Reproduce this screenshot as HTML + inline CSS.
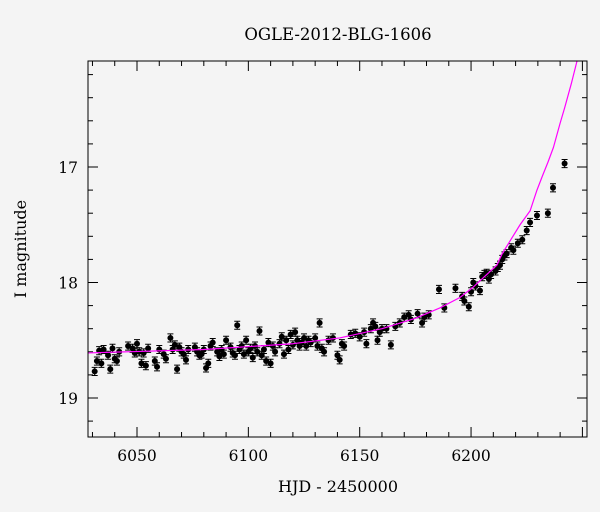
<!DOCTYPE html>
<html><head><meta charset="utf-8"><style>
body{margin:0;background:#f4f4f4}
svg{display:block;font-family:"DejaVu Serif","Liberation Serif",serif}
</style></head><body>
<svg id="chart" width="600" height="512" viewBox="0 0 600 512">
<rect width="600" height="512" fill="#f4f4f4"/>
<text x="338" y="40" font-size="16.5" text-anchor="middle">OGLE-2012-BLG-1606</text>
<text x="338" y="492" font-size="16" text-anchor="middle">HJD - 2450000</text>
<text transform="translate(26,249) rotate(-90)" font-size="16" text-anchor="middle">I magnitude</text>
<g id="ticks"></g>
<g id="plot"></g>
<rect x="88" y="61" width="499" height="376" fill="none" stroke="#000" stroke-width="1"/>
</svg>
<script>
const xTicks=[6050,6100,6150,6200];
const yTicks=[17,18,19];
const modelDays=[6028,6080,6120,6141,6160,6175,6186,6195,6201,6206,6211.6,6214,6218.8,6222,6226.5,6229.6,6232,6234.5,6237,6240,6242,6245,6248,6251];
const modelMags=[18.61,18.58,18.53,18.48,18.40,18.31,18.22,18.13,18.04,17.95,17.85,17.75,17.60,17.50,17.38,17.20,17.08,16.96,16.83,16.62,16.49,16.28,16.05,15.85];
const obsDays=[6031,6032,6033,6034,6035,6037,6038,6039,6040,6041,6042,6046,6048,6049,6050,6051,6052,6053,6054,6055,6058,6059,6060,6062,6063,6065,6066,6067,6068,6069,6070,6071,6072,6073,6076,6077,6078,6079,6080,6081,6082,6083,6084,6086,6087,6088,6089,6090,6092,6093,6094,6095,6096,6097,6098,6099,6100,6101,6102,6103,6104,6105,6106,6107,6108,6109,6110,6111,6112,6114,6115,6116,6117,6118,6119,6120,6121,6122,6123,6124,6125,6126,6127,6128,6130,6131,6132,6133,6134,6136,6138,6140,6141,6142,6143,6146,6148,6150,6152,6153,6155,6156,6157,6158,6159,6160,6162,6164,6166,6168,6170,6172,6173,6176,6178,6179,6181,6185.6,6188,6193,6196,6197,6199,6200,6201,6202,6204,6205,6206,6207,6208,6209,6211,6212,6213,6214,6215,6216,6218,6219,6221,6223,6225,6226.5,6229.6,6234.5,6236.8,6242];
const obsMags=[18.77,18.68,18.59,18.70,18.58,18.63,18.75,18.57,18.66,18.68,18.60,18.55,18.57,18.61,18.53,18.60,18.70,18.61,18.72,18.57,18.68,18.73,18.58,18.62,18.66,18.48,18.58,18.54,18.75,18.56,18.60,18.62,18.67,18.58,18.56,18.60,18.63,18.62,18.58,18.74,18.70,18.55,18.52,18.60,18.64,18.58,18.62,18.50,18.56,18.61,18.63,18.37,18.58,18.55,18.62,18.50,18.60,18.57,18.65,18.55,18.60,18.42,18.63,18.58,18.68,18.52,18.70,18.55,18.60,18.53,18.47,18.62,18.50,18.58,18.45,18.54,18.43,18.50,18.55,18.52,18.48,18.55,18.50,18.52,18.48,18.55,18.35,18.57,18.60,18.50,18.48,18.63,18.67,18.53,18.55,18.45,18.44,18.47,18.43,18.53,18.40,18.35,18.38,18.50,18.43,18.40,18.40,18.54,18.38,18.35,18.30,18.28,18.32,18.27,18.35,18.30,18.28,18.06,18.22,18.05,18.12,18.16,18.21,18.08,18.00,18.03,18.07,17.95,17.93,17.92,17.97,17.93,17.90,17.87,17.85,17.80,17.77,17.75,17.70,17.72,17.66,17.63,17.55,17.48,17.42,17.40,17.18,16.97,16.86,16.49];
const obsErr=0.035;
const NS="http://www.w3.org/2000/svg";
const L=88,R=587,T=61,B=437;
const X=d=>137+(d-6050)*2.227;
const Y=m=>167+(m-17)*115.5;
function mk(tag,attrs,parent){const e=document.createElementNS(NS,tag);for(const k in attrs)e.setAttribute(k,attrs[k]);parent.appendChild(e);return e;}
const tg=document.getElementById('ticks'), pg=document.getElementById('plot');
for(let d=6030;d<=6250;d+=10){const x=X(d);const maj=d%50===0;const len=maj?10:5;
 const t1=mk('line',{x1:x,y1:B,x2:x,y2:B-len,stroke:'#000'},tg);
 
 
 const t2=mk('line',{x1:x,y1:T,x2:x,y2:T+len,stroke:'#000'},tg);
 
 }
xTicks.forEach(d=>{const t=mk('text',{x:X(d),y:461,'font-size':15.5,'text-anchor':'middle'},tg);t.textContent=d;
 
 });
for(let i=81;i<=193;i++){const m=i/5;const y=Y(m);if(y<T||y>B)continue;const maj=i%5===0;const len=maj?10:5;
 const t1=mk('line',{x1:L,y1:y,x2:L+len,y2:y,stroke:'#000'},tg);
 
 
 const t2=mk('line',{x1:R,y1:y,x2:R-len,y2:y,stroke:'#000'},tg);
 
 }
yTicks.forEach(m=>{const t=mk('text',{x:78,y:Y(m)+6,'font-size':15.5,'text-anchor':'end'},tg);t.textContent=m;
 
 });
const defs=mk('defs',{},pg);const cp=mk('clipPath',{id:'clip'},defs);mk('rect',{x:L,y:T,width:R-L,height:B-T},cp);
const g=mk('g',{'clip-path':'url(#clip)'},pg);
obsDays.forEach((d,i)=>{const x=X(d),y=Y(obsMags[i]);const e=obsErr*115.5;
 const eb=mk('path',{d:`M${x},${y-e}V${y+e}M${x-3},${y-e}H${x+3}M${x-3},${y+e}H${x+3}`,stroke:'#000','stroke-width':1,fill:'none'},g);
 
 
 const c=mk('circle',{cx:x,cy:y,r:3,fill:'#000'},g);
 
 });
let p='';modelDays.forEach((d,i)=>{p+=(i?'L':'M')+X(d)+','+Y(modelMags[i]);});
const ml=mk('path',{d:p,stroke:'#ff00ff','stroke-width':1.2,fill:'none','stroke-linejoin':'round'},g);


</script>
</body></html>
